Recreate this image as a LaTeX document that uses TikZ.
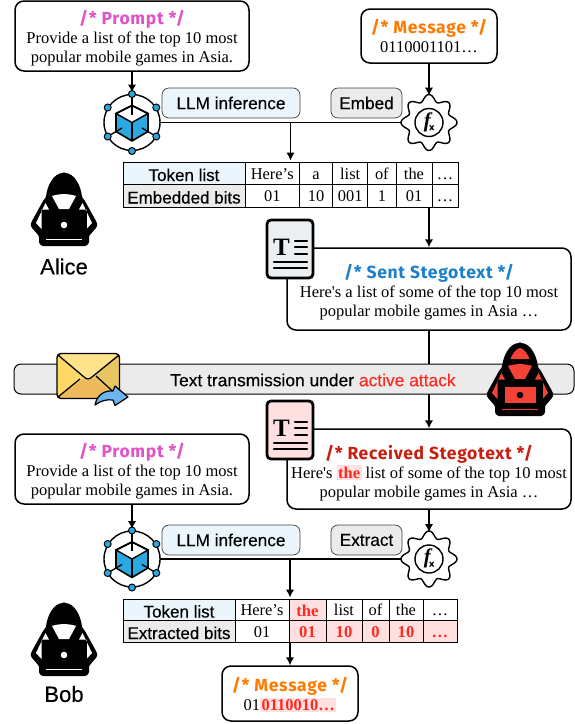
\documentclass[tikz,border=0pt]{standalone}
\usepackage{fontspec}
\usepackage{array}
\usetikzlibrary{arrows.meta,calc}
\setmainfont{Liberation Serif}
\newfontfamily\serifn{Liberation Serif}
\newfontfamily\sansn{Liberation Sans}[FakeBold=0.25]
\newfontfamily\headn{Fira Sans}[LetterSpace=4]
\definecolor{cprompt}{HTML}{E052C8}
\definecolor{cmsg}{HTML}{FF7A00}
\definecolor{csent}{HTML}{1B7FCC}
\definecolor{crecv}{HTML}{C81E0F}
\definecolor{cred}{HTML}{FF2A1F}
\definecolor{chack}{HTML}{F44336}
\definecolor{cpink}{HTML}{FFE0E0}
\definecolor{cblue}{HTML}{EAF5FC}
\definecolor{cgrey}{HTML}{EBEBEB}
\definecolor{cnet}{HTML}{29A9E0}
\definecolor{cdoc}{HTML}{ECEFF1}
\definecolor{enva}{HTML}{FFD966}
\definecolor{envb}{HTML}{E8C560}
\definecolor{envc}{HTML}{EDB95A}
\definecolor{envd}{HTML}{FFE28A}
\definecolor{enve}{HTML}{6CB4EE}
\newcommand\bodyfont{\serifn\fontsize{16.5}{19}\selectfont}
\newcommand\hd[2]{{\headn\bfseries\fontsize{17.5}{19}\selectfont\color{#1}#2}}
\newcommand\boxtext[2]{\vbox{\kern#1\hbox{\begin{tabular}{@{}c@{}}#2\end{tabular}}}}
\newcommand\hl[1]{{\setlength{\fboxsep}{1.4pt}\colorbox{cpink}{\bfseries\color{cred}#1}}}
\tikzset{
  x=1pt,y=-1pt,
  roundbox/.style={draw=black,line width=1.5pt,rounded corners=9pt,fill=white,inner sep=0pt,font=\bodyfont},
  tagbox/.style={draw=black!75,line width=0.7pt,rounded corners=7pt,inner sep=0pt,font=\sansn\fontsize{17.2}{18}\selectfont},
  arr/.style={line width=1.8pt,-{Latex[length=8pt,width=8.5pt]}},
  plain/.style={line width=1.8pt},
  cellbox/.style={draw=black,line width=0.9pt,inner sep=0pt,outer sep=0pt},
  celltxt/.style={font=\serifn\fontsize{16.4}{16}\selectfont,text height=12pt,text depth=0pt},
  cellsans/.style={font=\sansn\fontsize{17}{18}\selectfont,text height=16pt,text depth=0pt},
  cellhit/.style={font=\serifn\bfseries\fontsize{16.6}{16}\selectfont,text=cred,text height=13pt,text depth=0pt},
  whoname/.style={font=\sansn\fontsize{22}{24}\selectfont,inner sep=0pt},
  iconanchor/.style={circle,inner sep=0pt,minimum size=56pt,outer sep=0pt}
}
\newcommand\cell[8]{%
  \pgfmathsetmacro\cw{#4-#2}\pgfmathsetmacro\ch{#5-#3}%
  \pgfmathsetmacro\cx{(#2+#4)/2}\pgfmathsetmacro\cy{(#3+#5)/2}%
  \node[cellbox,#7,fill=#6,minimum width=\cw pt,minimum height=\ch pt] (#1) at (\cx,\cy) {#8};}
\newcommand\netdraw[2]{%
  \begin{scope}[shift={(#1,#2)}]
    \draw[line width=1.4pt] (0,0) circle (28);
    \fill[cnet] (0,0)--(16,-9)--(16,9)--(0,18.5)--(-16,9)--(-16,-9)--cycle;
    \draw[line width=1.4pt,fill=white] (0,0)--(16,-9)--(0,-17)--(-16,-9)--cycle;
    \draw[line width=1.6pt,line join=round] (0,-17)--(16,-9)--(16,9)--(0,18.5)--(-16,9)--(-16,-9)--cycle;
    \draw[line width=1.6pt] (0,0)--(0,18.5);
    \draw[line width=1.3pt] (0,-28)--(0,-8);
    \draw[line width=1.3pt] (-24.3,14)--(-10,5.5) (24.3,14)--(10,5.5);
    \foreach \a/\b in {0/-28.5,-24.3/-15,24.3/-15,-24.3/14,24.3/14,0/28.5}
      \draw[line width=1pt,fill=cnet] (\a,\b) circle (3.5);
  \end{scope}}
\newcommand\geardraw[2]{%
  \begin{scope}[shift={(#1,#2)}]
    \draw[line width=1.4pt,fill=white,line join=round] plot[smooth,domain=0:357.5,samples=144] ({(24.7+3.3*cos(8*\x))*cos(\x)},{(24.7+3.3*cos(8*\x))*sin(\x)}) -- cycle;
    \draw[line width=1.4pt] (0,0) circle (14);
    \node[inner sep=0pt,font=\serifn\itshape\bfseries\fontsize{21}{21}\selectfont] at (0,-0.5) {f\kern-1.5pt\raisebox{-3pt}{\sansn\upshape\bfseries\fontsize{9}{9}\selectfont x}};
  \end{scope}}
\newcommand\docdraw[3]{%
  \begin{scope}[shift={(#1,#2)}]
    \draw[line width=2.8pt,rounded corners=4pt,fill=#3] (267,0)--(313,0)--(313,58)--(267,58)--cycle;
    \node[inner sep=0pt,font=\serifn\bfseries\fontsize{25}{25}\selectfont] at (281.5,27) {T};
    \draw[line width=2.1pt,line cap=round] (295,21)--(307,21) (295,27)--(307,27) (295,34)--(307,34);
    \draw[line width=2.1pt,line cap=round] (274,42)--(307,42) (274,48)--(307,48);
  \end{scope}}
\newcommand\hackerdraw[6]{%
  \begin{scope}[shift={(#1,#2)}]
    \fill[black,rounded corners=1pt] (0,0) .. controls (11,0) and (17,14) .. (18,24) -- (21,28) -- (32,48) .. controls (34,52) and (33,54) .. (31,56) -- (25,63) -- (25,70) -- (22,73) -- (-22,73) -- (-25,70) -- (-25,63) -- (-31,56) .. controls (-33,54) and (-34,52) .. (-32,48) -- (-21,28) -- (-18,24) .. controls (-17,14) and (-11,0) .. (0,0) -- cycle;
    \fill[#3] (0,5) .. controls (4,6) and (8,11) .. (9.5,16) -- (-9.5,16) .. controls (-8,11) and (-4,6) .. (0,5) -- cycle;
    \fill[#4] (-12,23) .. controls (-5,20.5) and (5,20.5) .. (12,23) -- (5,36) -- (-5,36) -- cycle;
    \fill[#4] (18.5,30) -- (28,50) -- (22.5,56) -- (22.5,36.5) -- (15,36.5) -- cycle;
    \fill[#4] (-18.5,30) -- (-28,50) -- (-22.5,56) -- (-22.5,36.5) -- (-15,36.5) -- cycle;
    \fill[black] (-22.5,38) rectangle (22.5,63);
    \fill[#5] (-15.5,44) rectangle (16,60);
    \fill[#6] (0,52) circle (3.3);
    \draw[#4,line width=0.9pt] (-18,66.5)--(18,66.5);
  \end{scope}}
\begin{document}
\begin{tikzpicture}
\useasboundingbox (0,0) rectangle (574,724);

% ---------- Alice side ----------
\node[roundbox,minimum width=234pt,minimum height=70pt] (prompta) at (132,36)
  {\boxtext{7pt}{\hd{cprompt}{/* Prompt */}\\Provide a list of the top 10 most\\popular mobile games in Asia.}};
\node[roundbox,minimum width=136pt,minimum height=54pt] (msga) at (429,36)
  {\boxtext{6pt}{\hd{cmsg}{/* Message */}\\0110001101…}};
\node[iconanchor] (neta) at (132,122.5) {};
\node[iconanchor] (geara) at (429,122.5) {};
\node[tagbox,fill=cblue,minimum width=138pt,minimum height=30pt] (llma) at (231,103) {LLM inference};
\node[tagbox,fill=cgrey,minimum width=71pt,minimum height=30pt] (emb) at (366.5,103) {Embed};
\draw[plain] (neta.east) -- (geara.west);
\draw[arr,shorten >=2pt] (prompta.south) -- (neta.north);
\draw[arr,shorten >=-1pt] (msga.south) -- (geara.north);
\netdraw{132}{122.5}
\geardraw{429}{122.5}
\coordinate (ja) at (290.5,122.5);
\coordinate (jb) at (290.5,160.5);
\draw[arr] (ja) -- (jb);

\cell{ta1}{123}{162}{245}{184}{cblue}{cellsans}{Token list}
\cell{tb1}{245}{162}{299.5}{184}{white}{celltxt}{Here’s}
\cell{tc1}{299.5}{162}{332.7}{184}{white}{celltxt}{a}
\cell{td1}{332.7}{162}{367.7}{184}{white}{celltxt}{list}
\cell{te1}{367.7}{162}{396}{184}{white}{celltxt}{of}
\cell{tf1}{396}{162}{432}{184}{white}{celltxt}{the}
\cell{tg1}{432}{162}{458}{184}{white}{celltxt}{…}
\cell{ta2}{123}{184}{245}{207}{cgrey}{cellsans}{Embedded bits}
\cell{tb2}{245}{184}{299.5}{207}{white}{celltxt}{01}
\cell{tc2}{299.5}{184}{332.7}{207}{white}{celltxt}{10}
\cell{td2}{332.7}{184}{367.7}{207}{white}{celltxt}{001}
\cell{te2}{367.7}{184}{396}{207}{white}{celltxt}{1}
\cell{tf2}{396}{184}{432}{207}{white}{celltxt}{01}
\cell{tg2}{432}{184}{458}{207}{white}{celltxt}{…}

\hackerdraw{64}{173}{black}{white}{black}{white}
\node[whoname] (alice) at (64,266.5) {Alice};

\node[roundbox,minimum width=284pt,minimum height=82pt] (sent) at (429,289)
  {\boxtext{9pt}{\hd{csent}{/* Sent Stegotext */}\\Here's a list of some of the top 10 most\\popular mobile games in Asia …}};
\draw[arr] (tf2.south -| sent.north) -- (sent.north);
\docdraw{0}{220}{cdoc}

% ---------- Received box and banner ----------
\node[roundbox,minimum width=284pt,minimum height=80pt] (recv) at (429,469)
  {\boxtext{10pt}{\hd{crecv}{/* Received Stegotext */}\\Here's \hl{the} list of some of the top 10 most\\popular mobile games in Asia …}};
\draw[arr] (sent.south) -- (recv.north);
\node[draw=black,line width=1pt,rounded corners=7pt,fill=cgrey,minimum width=560pt,minimum height=30pt,inner sep=0pt] (banner) at (294,379) {};
\node[inner sep=0pt,font=\sansn\fontsize{17.4}{18}\selectfont] (bantxt) at (313,380) {Text transmission under \textcolor{cred}{active attack}};

% envelope
\begin{scope}
  \begin{scope}
    \clip[rounded corners=4pt] (57,353.5) rectangle (119.5,398.5);
    \fill[enva] (57,353) -- (88,378) -- (57,399) -- cycle;
    \fill[envb] (120,353) -- (88,378) -- (120,399) -- cycle;
    \fill[envc] (57,399) -- (88,375) -- (120,399) -- cycle;
    \fill[envd] (57,353) -- (120,353) -- (92,379) -- (84,379) -- cycle;
  \end{scope}
  \draw[line width=1.3pt,line join=round] (58,355) -- (84,377) .. controls (86,379.5) and (90,379.5) .. (92,377) -- (119,355);
  \draw[line width=1.3pt] (58,397) -- (80,379) (119,397) -- (96,376);
  \draw[line width=1.4pt,rounded corners=4pt] (57,353.5) rectangle (119.5,398.5);
  \draw[line width=1.2pt,fill=enve,line join=round] (95,405) .. controls (97,394) and (106,390) .. (113,391) -- (115,386) -- (128,397) -- (115,405.5) -- (113,400) .. controls (107,399) and (100,401) .. (95,405) -- cycle;
\end{scope}

\hackerdraw{520}{343}{chack}{chack}{chack}{black}

% ---------- Bob side ----------
\docdraw{0}{401}{cpink}
\node[roundbox,minimum width=234pt,minimum height=70pt] (promptb) at (132,469)
  {\boxtext{7pt}{\hd{cprompt}{/* Prompt */}\\Provide a list of the top 10 most\\popular mobile games in Asia.}};
\node[iconanchor] (netb) at (132,559) {};
\node[iconanchor] (gearb) at (429,559) {};
\node[tagbox,fill=cblue,minimum width=138pt,minimum height=30pt] (llmb) at (231,540) {LLM inference};
\node[tagbox,fill=cgrey,minimum width=71pt,minimum height=30pt] (ext) at (366.5,540) {Extract};
\draw[plain] (netb.east) -- (gearb.west);
\draw[arr,shorten >=2pt] (promptb.south) -- (netb.north);
\draw[arr,shorten >=-1pt] (recv.south) -- (gearb.north);
\netdraw{132}{559}
\geardraw{429}{559}
\coordinate (jc) at (290,559);
\coordinate (jd) at (290,597.5);
\draw[arr] (jc) -- (jd);

\cell{ua1}{123}{599}{235}{620}{cblue}{cellsans}{Token list}
\cell{ub1}{235}{599}{289}{620}{white}{celltxt}{Here’s}
\cell{uc1}{289}{599}{326}{620}{cpink}{cellhit}{the}
\cell{ud1}{326}{599}{362}{620}{white}{celltxt}{list}
\cell{ue1}{362}{599}{389}{620}{white}{celltxt}{of}
\cell{uf1}{389}{599}{423}{620}{white}{celltxt}{the}
\cell{ug1}{423}{599}{457}{620}{white}{celltxt}{…}
\cell{ua2}{123}{620}{235}{642}{cgrey}{cellsans}{Extracted bits}
\cell{ub2}{235}{620}{289}{642}{white}{celltxt}{01}
\cell{uc2}{289}{620}{326}{642}{cpink}{cellhit}{01}
\cell{ud2}{326}{620}{362}{642}{cpink}{cellhit}{10}
\cell{ue2}{362}{620}{389}{642}{cpink}{cellhit}{0}
\cell{uf2}{389}{620}{423}{642}{cpink}{cellhit}{10}
\cell{ug2}{423}{620}{457}{642}{cpink}{cellhit}{…}

\hackerdraw{64}{603}{black}{white}{black}{white}
\node[whoname] (bob) at (64,694) {Bob};

\node[roundbox,minimum width=136pt,minimum height=55pt] (msgb) at (290,693.5)
  {\boxtext{6pt}{\hd{cmsg}{/* Message */}\\01\hl{0110010…}}};
\draw[arr] (ub2.south -| msgb.north) -- (msgb.north);
\end{tikzpicture}
\end{document}
